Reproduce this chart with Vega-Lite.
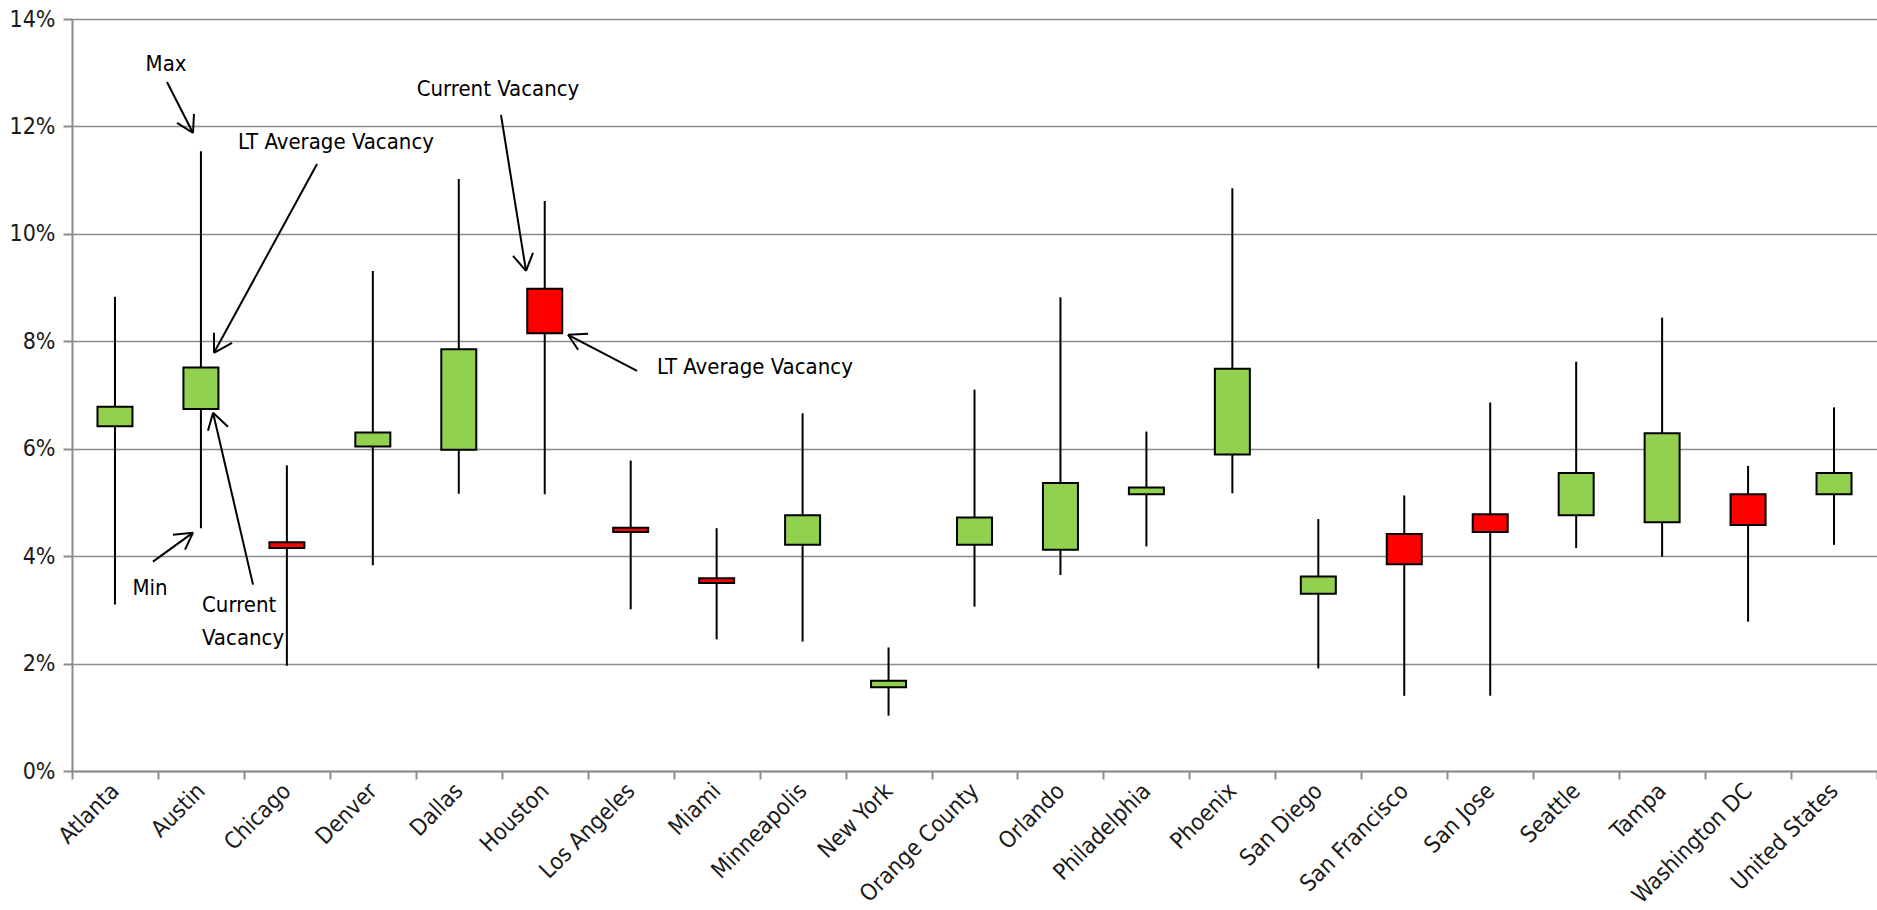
{
  "$schema": "https://vega.github.io/schema/vega-lite/v6.json",
  "autosize": {"type": "none"},
  "width": 1805,
  "height": 752,
  "padding": {"left": 72, "top": 19, "right": 0, "bottom": 139},
  "background": "white",
  "config": {
    "view": {"stroke": null},
    "font": "DejaVu Sans Condensed, DejaVu Sans, sans-serif",
    "axis": {
      "labelFont": "DejaVu Sans Condensed, DejaVu Sans, sans-serif",
      "labelColor": "#1a1a1a",
      "domainColor": "#8c8c8c",
      "domainWidth": 2,
      "tickColor": "#8c8c8c",
      "tickWidth": 2,
      "gridColor": "#8c8c8c",
      "gridWidth": 1.6,
      "title": null
    }
  },
  "datasets": {
    "vacancy": [
      {"city": "Atlanta", "current": 6.42, "average": 6.78, "min": 3.10, "max": 8.83},
      {"city": "Austin", "current": 6.74, "average": 7.51, "min": 4.52, "max": 11.54},
      {"city": "Chicago", "current": 4.26, "average": 4.15, "min": 1.96, "max": 5.69},
      {"city": "Denver", "current": 6.04, "average": 6.30, "min": 3.83, "max": 9.31},
      {"city": "Dallas", "current": 5.98, "average": 7.85, "min": 5.16, "max": 11.02},
      {"city": "Houston", "current": 8.98, "average": 8.15, "min": 5.15, "max": 10.61},
      {"city": "Los Angeles", "current": 4.53, "average": 4.45, "min": 3.01, "max": 5.78},
      {"city": "Miami", "current": 3.59, "average": 3.50, "min": 2.45, "max": 4.52},
      {"city": "Minneapolis", "current": 4.21, "average": 4.76, "min": 2.41, "max": 6.66},
      {"city": "New York", "current": 1.56, "average": 1.68, "min": 1.03, "max": 2.30},
      {"city": "Orange County", "current": 4.21, "average": 4.72, "min": 3.06, "max": 7.10},
      {"city": "Orlando", "current": 4.12, "average": 5.36, "min": 3.65, "max": 8.82},
      {"city": "Philadelphia", "current": 5.15, "average": 5.28, "min": 4.18, "max": 6.32},
      {"city": "Phoenix", "current": 5.89, "average": 7.49, "min": 5.17, "max": 10.85},
      {"city": "San Diego", "current": 3.30, "average": 3.62, "min": 1.91, "max": 4.69},
      {"city": "San Francisco", "current": 4.41, "average": 3.85, "min": 1.40, "max": 5.13},
      {"city": "San Jose", "current": 4.78, "average": 4.45, "min": 1.40, "max": 6.86},
      {"city": "Seattle", "current": 4.76, "average": 5.55, "min": 4.15, "max": 7.62},
      {"city": "Tampa", "current": 4.63, "average": 6.29, "min": 3.99, "max": 8.44},
      {"city": "Washington DC", "current": 5.15, "average": 4.58, "min": 2.78, "max": 5.68},
      {"city": "United States", "current": 5.15, "average": 5.55, "min": 4.21, "max": 6.77}
    ],
    "notes": [
      {"label": "Max", "x": 1.094, "y": 13.16, "align": "center"},
      {"label": "LT Average Vacancy", "x": 3.072, "y": 11.71, "align": "center"},
      {"label": "Min", "x": 0.908, "y": 3.414, "align": "center"},
      {"label": "Current", "x": 1.513, "y": 3.098, "align": "left"},
      {"label": "Vacancy", "x": 1.513, "y": 2.484, "align": "left"},
      {"label": "Current Vacancy", "x": 4.956, "y": 12.70, "align": "center"},
      {"label": "LT Average Vacancy", "x": 6.806, "y": 7.526, "align": "left"}
    ],
    "arrows": [
      {"x": 1.105, "y": 12.828, "x2": 1.408, "y2": 11.879},
      {"x": 1.408, "y": 11.879, "x2": 1.222, "y2": 12.065},
      {"x": 1.408, "y": 11.879, "x2": 1.419, "y2": 12.233},
      {"x": 2.851, "y": 11.302, "x2": 1.652, "y2": 7.786},
      {"x": 1.652, "y": 7.786, "x2": 1.652, "y2": 8.158},
      {"x": 1.652, "y": 7.786, "x2": 1.862, "y2": 7.972},
      {"x": 0.942, "y": 3.897, "x2": 1.408, "y2": 4.437},
      {"x": 1.408, "y": 4.437, "x2": 1.175, "y2": 4.400},
      {"x": 1.408, "y": 4.437, "x2": 1.315, "y2": 4.121},
      {"x": 2.106, "y": 3.470, "x2": 1.641, "y2": 6.670},
      {"x": 1.641, "y": 6.670, "x2": 1.582, "y2": 6.335},
      {"x": 1.641, "y": 6.670, "x2": 1.815, "y2": 6.409},
      {"x": 4.991, "y": 12.214, "x2": 5.282, "y2": 9.312},
      {"x": 5.282, "y": 9.312, "x2": 5.131, "y2": 9.591},
      {"x": 5.282, "y": 9.312, "x2": 5.364, "y2": 9.647},
      {"x": 6.574, "y": 7.451, "x2": 5.771, "y2": 8.121},
      {"x": 5.771, "y": 8.121, "x2": 6.004, "y2": 8.140},
      {"x": 5.771, "y": 8.121, "x2": 5.888, "y2": 7.842}
    ]
  },
  "resolve": {"scale": {"x": "independent"}, "axis": {"x": "independent"}},
  "layer": [
    {
      "data": {"name": "vacancy"},
      "mark": {"type": "rule", "color": "black", "strokeWidth": 2},
      "encoding": {
        "x": {
          "field": "city",
          "type": "nominal",
          "sort": null,
          "scale": {"paddingInner": 0, "paddingOuter": 0},
          "axis": {
            "orient": "bottom",
            "tickBand": "extent",
            "tickSize": 8,
            "labelAngle": -45,
            "labelAlign": "right",
            "labelBaseline": "middle",
            "labelPadding": 8,
            "labelFontSize": 23,
            "grid": false,
            "domain": true
          }
        },
        "y": {
          "field": "min",
          "type": "quantitative",
          "scale": {"domain": [0, 14], "nice": false, "zero": true},
          "axis": {
            "values": [0, 2, 4, 6, 8, 10, 12, 14],
            "labelExpr": "datum.value + '%'",
            "labelFontSize": 23,
            "labelPadding": 8,
            "tickSize": 9,
            "grid": true,
            "domain": true
          }
        },
        "y2": {"field": "max"}
      }
    },
    {
      "data": {"name": "vacancy"},
      "mark": {"type": "bar", "width": 35, "stroke": "black", "strokeWidth": 2},
      "encoding": {
        "x": {"field": "city", "type": "nominal", "sort": null, "scale": {"paddingInner": 0, "paddingOuter": 0}, "axis": null},
        "y": {"field": "current", "type": "quantitative"},
        "y2": {"field": "average"},
        "color": {
          "condition": {"test": "datum.current > datum.average", "value": "#ff0000"},
          "value": "#92d050"
        }
      }
    },
    {
      "data": {"name": "arrows"},
      "mark": {"type": "rule", "color": "black", "strokeWidth": 2},
      "encoding": {
        "x": {"field": "x", "type": "quantitative", "scale": {"domain": [0, 21], "nice": false, "zero": false}, "axis": null},
        "x2": {"field": "x2"},
        "y": {"field": "y", "type": "quantitative"},
        "y2": {"field": "y2"}
      }
    },
    {
      "data": {"name": "notes"},
      "transform": [{"filter": "datum.align == 'center'"}],
      "mark": {"type": "text", "fontSize": 22, "align": "center", "baseline": "middle", "color": "black"},
      "encoding": {
        "x": {"field": "x", "type": "quantitative", "scale": {"domain": [0, 21], "nice": false, "zero": false}, "axis": null},
        "y": {"field": "y", "type": "quantitative"},
        "text": {"field": "label"}
      }
    },
    {
      "data": {"name": "notes"},
      "transform": [{"filter": "datum.align == 'left'"}],
      "mark": {"type": "text", "fontSize": 22, "align": "left", "baseline": "middle", "color": "black"},
      "encoding": {
        "x": {"field": "x", "type": "quantitative", "scale": {"domain": [0, 21], "nice": false, "zero": false}, "axis": null},
        "y": {"field": "y", "type": "quantitative"},
        "text": {"field": "label"}
      }
    }
  ]
}
